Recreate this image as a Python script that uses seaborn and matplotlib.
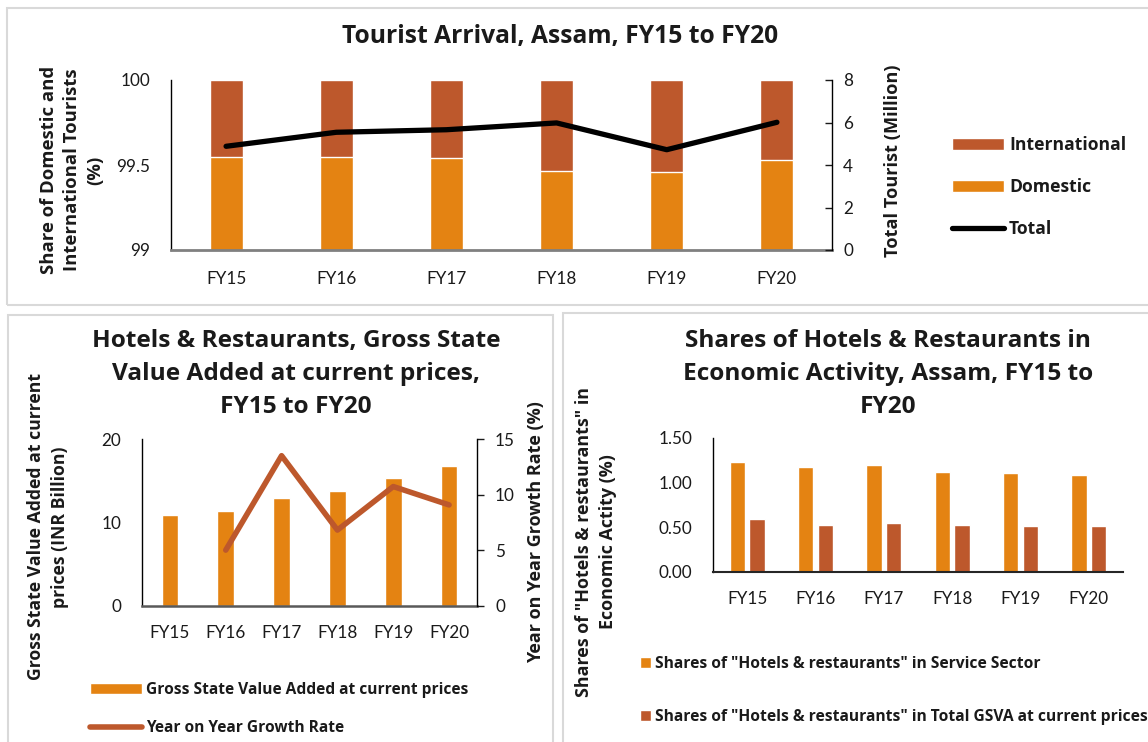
import numpy as np
import pandas as pd
import matplotlib
matplotlib.use("Agg")
import matplotlib.pyplot as plt
import seaborn as sns
from matplotlib.patches import Rectangle

sns.set_style("white")
plt.rcParams['font.family'] = ['Lato', 'DejaVu Sans']

# ---------------- data ----------------
years = ["FY15", "FY16", "FY17", "FY18", "FY19", "FY20"]
domestic_share = [99.549, 99.549, 99.539, 99.467, 99.459, 99.529]
international_share = [100 - d for d in domestic_share]
total_tourists = [4.88, 5.54, 5.66, 5.98, 4.72, 6.01]

gsva = [10.86, 11.42, 12.95, 13.83, 15.31, 16.71]
growth = [np.nan, 5.02, 13.5, 6.82, 10.73, 9.08]

share_service = [1.231, 1.172, 1.201, 1.123, 1.112, 1.082]
share_gsva = [0.590, 0.530, 0.552, 0.530, 0.519, 0.511]

ORANGE = "#E48312"
RED = "#BD582C"
TXT = "#1a1a1a"
BOLD_FAM = ["Open Sans", "DejaVu Sans"]
REG_FAM = ["Lato", "DejaVu Sans"]

W, H = 1148, 742
fig = plt.figure(figsize=(W / 100, H / 100), dpi=100)
fig.patch.set_facecolor("white")
renderer = fig.canvas.get_renderer()


def px(l, t, r, b):
    return [l / W, 1 - b / H, (r - l) / W, (b - t) / H]


def fx(x):
    return x / W


def fy(y):
    return 1 - y / H


def fit_size(text, target_w, family=BOLD_FAM, weight="bold", base=12.0):
    t = fig.text(0, 0, text, fontsize=base, family=family, fontweight=weight)
    w = t.get_window_extent(renderer=renderer).width
    t.remove()
    return base * target_w / w


def spacing_for(size, target_dy, family=BOLD_FAM, weight="bold"):
    t1 = fig.text(0, 0, "Ap", fontsize=size, family=family, fontweight=weight,
                  linespacing=1.0)
    t2 = fig.text(0, 0, "Ap\nAp", fontsize=size, family=family, fontweight=weight,
                  linespacing=1.0)
    dy = (t2.get_window_extent(renderer=renderer).height
          - t1.get_window_extent(renderer=renderer).height)
    t1.remove()
    t2.remove()
    return target_dy / dy


def btext(x, y, s, size, rot=0, ls=1.2):
    return fig.text(fx(x), fy(y), s, rotation=rot, ha="center", va="center",
                    fontsize=size, family=BOLD_FAM, fontweight="bold",
                    color=TXT, linespacing=ls, multialignment="center")


TICK = fit_size("FY15", 40, family=REG_FAM, weight="normal")

# panel borders
for (l, t, r, b) in [(7, 8, 1160, 305), (8, 315, 553, 760), (563, 313, 1160, 760)]:
    fig.patches.append(Rectangle((fx(l), fy(b)), (r - l) / W, (b - t) / H,
                                 transform=fig.transFigure, fill=False,
                                 edgecolor="#D9D9D9", linewidth=1.5, zorder=0))

pos = np.arange(len(years))

# ---------------- top chart ----------------
ax = fig.add_axes(px(171, 80, 832, 250))
sns.barplot(x=years, y=[d + i for d, i in zip(domestic_share, international_share)],
            color=RED, saturation=1, width=0.3, ax=ax, label="International")
sns.barplot(x=years, y=domestic_share, color=ORANGE, saturation=1, width=0.3,
            ax=ax, label="Domestic")
ax.set_ylim(99, 100)
ax.set_yticks([99, 99.5, 100])
ax.set_yticklabels(["99", "99.5", "100"])
ax.set_xlim(-0.5, 5.5)
ax.set_xlabel("")
ax.set_ylabel("")
for s in ["top", "right"]:
    ax.spines[s].set_visible(False)
ax.spines["left"].set_color("#000000")
ax.spines["left"].set_linewidth(1.0)
ax.spines["bottom"].set_color("#808080")
ax.spines["bottom"].set_linewidth(2.0)
ax.tick_params(axis="both", length=0, labelsize=TICK, colors=TXT)
ax.tick_params(axis="x", pad=15)
ax.tick_params(axis="y", pad=15)
if ax.get_legend():
    ax.get_legend().remove()

ax2 = ax.twinx()
sns.lineplot(x=pos, y=total_tourists, color="black", linewidth=3.8, ax=ax2,
             label="Total", legend=False)
ax2.lines[0].set_solid_capstyle("round")
ax2.set_ylim(0, 8)
ax2.set_yticks([0, 2, 4, 6, 8])
ax2.set_xlim(-0.5, 5.5)
for s in ["top", "left", "bottom"]:
    ax2.spines[s].set_visible(False)
ax2.spines["right"].set_color("#000000")
ax2.spines["right"].set_linewidth(1.0)
ax2.tick_params(axis="y", length=5, direction="in", labelsize=TICK, colors=TXT,
                pad=8, width=1)
ax2.set_ylabel("")

s_title_top = fit_size("Tourist Arrival, Assam, FY15 to FY20", 435)
btext(560, 37, "Tourist Arrival, Assam, FY15 to FY20", s_title_top)
s_yl_top = fit_size("Share of Domestic and", 207)
btext(72, 170, "Share of Domestic and\nInternational Tourists\n(%)", s_yl_top, rot=90,
      ls=spacing_for(s_yl_top, 25))
s_yr_top = fit_size("Total Tourist (Million)", 192)
btext(893, 161, "Total Tourist (Million)", s_yr_top, rot=90)

s_leg_top = fit_size("International", 116)
h_int = ax.containers[0].patches[0]
h_dom = ax.containers[1].patches[0]
h_tot = ax2.lines[0]
fs_px = s_leg_top * 100 / 72
fig.legend([h_int, h_dom, h_tot], ["International", "Domestic", "Total"],
           loc="center left", bbox_to_anchor=(fx(952), fy(187)),
           bbox_transform=fig.transFigure, frameon=False, borderpad=0,
           borderaxespad=0, handlelength=52 / fs_px, handleheight=12.5 / fs_px,
           handletextpad=5 / fs_px, labelspacing=(41.5 - fs_px) / fs_px,
           prop={"size": s_leg_top, "weight": "bold", "family": BOLD_FAM},
           labelcolor=TXT)

# ---------------- bottom-left chart ----------------
bx = fig.add_axes(px(142, 439, 477, 606))
sns.barplot(x=years, y=gsva, color=ORANGE, saturation=1, width=0.3, ax=bx,
            label="Gross State Value Added at current prices")
bx.set_ylim(0, 20)
bx.set_yticks([0, 10, 20])
bx.set_xlim(-0.5, 5.5)
bx.set_xlabel("")
bx.set_ylabel("")
for s in ["top", "right"]:
    bx.spines[s].set_visible(False)
bx.spines["left"].set_color("#000000")
bx.spines["left"].set_linewidth(1.0)
bx.spines["bottom"].set_color("#595959")
bx.spines["bottom"].set_linewidth(1.8)
bx.tick_params(axis="both", length=0, labelsize=TICK, colors=TXT)
bx.tick_params(axis="x", pad=14)
bx.tick_params(axis="y", pad=15)
if bx.get_legend():
    bx.get_legend().remove()

bx2 = bx.twinx()
sns.lineplot(x=pos, y=growth, color=RED, linewidth=4, ax=bx2,
             label="Year on Year Growth Rate", legend=False)
bx2.lines[0].set_solid_capstyle("round")
bx2.set_ylim(0, 15)
bx2.set_yticks([0, 5, 10, 15])
bx2.set_xlim(-0.5, 5.5)
for s in ["top", "left", "bottom"]:
    bx2.spines[s].set_visible(False)
bx2.spines["right"].set_color("#000000")
bx2.spines["right"].set_linewidth(1.0)
bx2.tick_params(axis="y", length=5, direction="out", labelsize=TICK, colors=TXT,
                pad=8, width=1)
bx2.set_ylabel("")

s_title_bl = fit_size("Hotels & Restaurants, Gross State", 409)
btext(296, 374, "Hotels & Restaurants, Gross State\nValue Added at current prices,\nFY15 to FY20",
      s_title_bl, ls=spacing_for(s_title_bl, 36))
s_yl_bl = fit_size("Gross State Value Added at current", 308)
btext(48, 527, "Gross State Value Added at current\nprices (INR Billion)", s_yl_bl,
      rot=90, ls=spacing_for(s_yl_bl, 26))
s_yr_bl = fit_size("Year on Year Growth Rate (%)", 262)
btext(536, 532, "Year on Year Growth Rate (%)", s_yr_bl, rot=90)

s_leg_bl = fit_size("Gross State Value Added at current prices", 321)
fs_px = s_leg_bl * 100 / 72
fig.legend([bx.containers[0].patches[0], bx2.lines[0]],
           ["Gross State Value Added at current prices", "Year on Year Growth Rate"],
           loc="center left", bbox_to_anchor=(fx(90), fy(709)),
           bbox_transform=fig.transFigure, frameon=False, borderpad=0,
           borderaxespad=0, handlelength=52 / fs_px, handleheight=11 / fs_px,
           handletextpad=4 / fs_px, labelspacing=(38 - fs_px) / fs_px,
           prop={"size": s_leg_bl, "weight": "bold", "family": BOLD_FAM},
           labelcolor=TXT)

# ---------------- bottom-right chart ----------------
cx = fig.add_axes(px(713, 438, 1123, 572))
lab_service = 'Shares of "Hotels & restaurants" in Service Sector'
lab_gsva = 'Shares of "Hotels & restaurants" in Total GSVA at current prices'
df = pd.DataFrame({
    "year": years * 2,
    "value": share_service + share_gsva,
    "series": [lab_service] * len(years) + [lab_gsva] * len(years),
})
sns.barplot(data=df, x="year", y="value", hue="series",
            palette=[ORANGE, RED], saturation=1, width=0.58, gap=0.22, ax=cx,
            legend=False)
cx.set_ylim(0, 1.5)
cx.set_yticks([0, 0.5, 1.0, 1.5])
cx.set_yticklabels(["0.00", "0.50", "1.00", "1.50"])
cx.set_xlim(-0.5, 5.5)
cx.set_xlabel("")
cx.set_ylabel("")
for s in ["top", "right"]:
    cx.spines[s].set_visible(False)
cx.spines["left"].set_color("#000000")
cx.spines["left"].set_linewidth(1.0)
cx.spines["bottom"].set_color("#262626")
cx.spines["bottom"].set_linewidth(1.5)
cx.tick_params(axis="both", length=0, labelsize=TICK, colors=TXT)
cx.tick_params(axis="x", pad=14)
cx.tick_params(axis="y", pad=15)

s_title_br = fit_size("Shares of Hotels & Restaurants in", 406)
btext(888, 374, "Shares of Hotels & Restaurants in\nEconomic Activity, Assam, FY15 to\nFY20",
      s_title_br, ls=spacing_for(s_title_br, 36))
s_yl_br = fit_size('Shares of "Hotels & restaurants" in', 310)
btext(596, 542, 'Shares of "Hotels & restaurants" in\nEconomic Actity (%)', s_yl_br,
      rot=90, ls=spacing_for(s_yl_br, 26))

s_leg_br = fit_size(lab_service, 384)
fs_px = s_leg_br * 100 / 72
fig.legend([cx.containers[0].patches[0], cx.containers[1].patches[0]],
           [lab_service, lab_gsva],
           loc="center left", bbox_to_anchor=(fx(640), fy(690.5)),
           bbox_transform=fig.transFigure, frameon=False, borderpad=0,
           borderaxespad=0, handlelength=11 / fs_px, handleheight=11 / fs_px,
           handletextpad=4 / fs_px, labelspacing=(53 - fs_px) / fs_px,
           prop={"size": s_leg_br, "weight": "bold", "family": BOLD_FAM},
           labelcolor=TXT)

fig.savefig("out.png", dpi=100, facecolor="white")
